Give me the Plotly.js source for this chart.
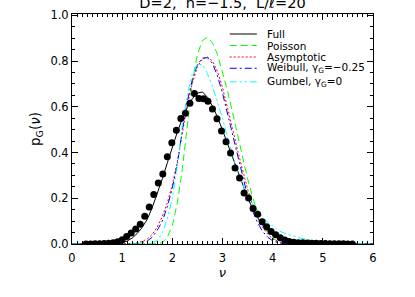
<!DOCTYPE html>
<html>
<head>
<meta charset="utf-8">
<script src="https://cdn.plot.ly/plotly-3.0.1.min.js"></script>
<style>html,body{margin:0;padding:0;background:#fff;}#chart{width:415px;height:297px;}</style>
</head>
<body>
<div id="chart"></div>
<script>
// ---- data ----
var nuGrid = [
  0.0,0.1,0.2,0.3,0.4,0.5,0.6,0.7,0.8,0.9,
  1.0,1.1,1.2,1.3,1.4,1.5,1.6,1.7,1.8,1.9,
  2.0,2.1,2.2,2.3,2.4,2.5,2.6,2.7,2.8,2.9,
  3.0,3.1,3.2,3.3,3.4,3.5,3.6,3.7,3.8,3.9,
  4.0,4.1,4.2,4.3,4.4,4.5,4.6,4.7,4.8,4.9,
  5.0,5.1,5.2,5.3,5.4,5.5,5.6,5.7,5.8,5.9,6.0];
var fullCurve = [
  0,0,0,0,0,0,0,0,0.001,0.002,
  0.006,0.013,0.026,0.046,0.073,0.108,0.160,0.220,0.285,0.355,
  0.425,0.490,0.548,0.598,0.636,0.660,0.665,0.642,0.603,0.555,
  0.498,0.440,0.380,0.318,0.258,0.203,0.155,0.115,0.082,0.057,
  0.038,0.025,0.015,0.009,0.005,0.003,0.001,0,0,0,
  0,0,0,0,0,0,0,0,0,0,0];
var poissonCurve = [
  0,0,0,0,0,0,0,0,0,0,
  0,0,0,0,0,0,0,0.001,0.006,0.030,
  0.080,0.180,0.330,0.530,0.710,0.830,0.890,0.905,0.880,0.830,
  0.755,0.670,0.575,0.475,0.375,0.285,0.205,0.140,0.090,0.052,
  0.026,0.011,0.004,0.001,0,0,0,0,0,0,
  0,0,0,0,0,0,0,0,0,0,0];
var asymptoticCurve = [
  0,0,0,0,0,0,0,0,0,0,
  0,0,0.002,0.005,0.011,0.022,0.042,0.075,0.120,0.180,
  0.260,0.360,0.490,0.610,0.705,0.775,0.810,0.818,0.800,0.755,
  0.685,0.600,0.505,0.410,0.320,0.240,0.170,0.115,0.073,0.043,
  0.023,0.011,0.005,0.002,0,0,0,0,0,0,
  0,0,0,0,0,0,0,0,0,0,0];
var weibullCurve = [
  0,0,0,0,0,0,0,0,0,0,
  0,0,0,0.002,0.007,0.013,0.030,0.060,0.100,0.163,
  0.245,0.350,0.500,0.625,0.720,0.785,0.813,0.815,0.790,0.735,
  0.660,0.570,0.475,0.380,0.290,0.210,0.145,0.093,0.055,0.030,
  0.014,0.006,0.002,0,0,0,0,0,0,0,
  0,0,0,0,0,0,0,0,0,0,0];
var gumbelCurve = [
  0,0,0,0,0,0,0,0,0,0,
  0,0,0,0,0,0.001,0.005,0.015,0.048,0.110,
  0.200,0.345,0.520,0.655,0.745,0.785,0.785,0.745,0.690,0.625,
  0.550,0.465,0.385,0.315,0.260,0.215,0.178,0.146,0.118,0.095,
  0.077,0.062,0.050,0.042,0.035,0.029,0.024,0.019,0.015,0.012,
  0.010,0.008,0.006,0.004,0.003,0.002,0.001,0.001,0,0,0];
var nuPoints = [
  0.28,0.37,0.46,0.55,0.64,0.73,0.82,0.91,1.00,1.09,
  1.18,1.27,1.36,1.45,1.54,1.63,1.72,1.81,1.90,1.99,
  2.08,2.17,2.26,2.35,2.44,2.53,2.62,2.71,2.80,2.89,
  2.98,3.07,3.16,3.25,3.34,3.43,3.52,3.61,3.70,3.79,
  3.88,3.97,4.06,4.15,4.24,4.33,4.42,4.51,4.60,4.69,
  4.78,4.87,4.96,5.05,5.14,5.23,5.32,5.41,5.50,5.59];
var pPoints = [
  0.000,0.000,0.001,0.001,0.002,0.003,0.005,0.010,0.019,0.033,
  0.048,0.066,0.086,0.121,0.162,0.216,0.267,0.306,0.382,0.443,
  0.498,0.549,0.572,0.616,0.658,0.636,0.635,0.624,0.590,0.548,
  0.494,0.447,0.398,0.332,0.289,0.223,0.201,0.155,0.130,0.097,
  0.075,0.055,0.041,0.027,0.018,0.011,0.008,0.006,0.005,0.004,
  0.003,0.003,0.002,0.002,0.001,0.001,0.001,0.001,0.000,0.000];
var seriesNames = ['Full', 'Poisson', 'Asymptotic',
  'Weibull, \u03b3<sub>G</sub>=\u22120.25', 'Gumbel, \u03b3<sub>G</sub>=0'];
var xTickVals = [0,1,2,3,4,5,6];
var yTickVals = [0,0.2,0.4,0.6,0.8,1.0];

// ---- styles ----
var styles = [
  {color:'#000000', dash:'solid'},
  {color:'#00ff00', dash:'7px,4px'},
  {color:'#ff0000', dash:'2px,2px'},
  {color:'#0000ff', dash:'7px,3px,2px,3px'},
  {color:'#00ffff', dash:'7px,3px,2px,3px,2px,3px'}
];
var curves = [fullCurve, poissonCurve, asymptoticCurve, weibullCurve, gumbelCurve];

var traces = curves.map(function(c, i){
  return {x: nuGrid, y: c, type:'scatter', mode:'lines', name: seriesNames[i],
    line:{color: styles[i].color, dash: styles[i].dash, width:1}, showlegend:false, hoverinfo:'skip'};
});
traces.push({x: nuPoints, y: pPoints, type:'scatter', mode:'markers',
  marker:{color:'#000', size:7, line:{width:0}}, showlegend:false, hoverinfo:'skip'});

var fontFam = 'DejaVu Sans, sans-serif';

// manual compact legend
var legRowY = [0.913, 0.863, 0.813, 0.764, 0.705];
var shapes = [], annotations = [];
seriesNames.forEach(function(n, i){
  shapes.push({type:'line', xref:'paper', yref:'paper', x0:0.524, x1:0.614, y0:legRowY[i], y1:legRowY[i],
    line:{color: styles[i].color, dash: styles[i].dash, width:1}});
  annotations.push({xref:'paper', yref:'paper', x:0.6425, y:legRowY[i], xanchor:'left', yanchor:'middle',
    text:n, showarrow:false, font:{family:fontFam, size:10.5, color:'#000'}});
});

var layout = {
  width:415, height:297,
  margin:{l:72, r:42, t:14, b:53},
  paper_bgcolor:'#fff', plot_bgcolor:'#fff',
  font:{family:fontFam, size:11.5, color:'#000'},
  title:{text:'D=2,  n=\u22121.5,  L/\u2113=20', font:{family:fontFam, size:14.5, color:'#000'},
    x:0.5, xanchor:'center', xref:'paper', y:0.989, yanchor:'middle', yref:'container'},
  xaxis:{range:[0,6], tickvals:xTickVals, ticktext:xTickVals.map(String),
    ticks:'inside', ticklen:6, tickwidth:1, tickcolor:'#000', ticklabelstandoff:3,
    minor:{ticks:'inside', ticklen:3, dtick:0.1, tickcolor:'#000', tickwidth:1, showgrid:false},
    showline:true, linecolor:'#000', linewidth:1, mirror:'allticks',
    showgrid:false, zeroline:false, tickfont:{size:11.5},
    title:{text:'<i>\u03bd</i>', font:{size:13}, standoff:4}},
  yaxis:{range:[0,1.006], tickvals:yTickVals, ticktext:yTickVals.map(function(v){return v.toFixed(1);}),
    ticks:'inside', ticklen:6, tickwidth:1, tickcolor:'#000',
    minor:{ticks:'inside', ticklen:3, dtick:0.05, tickcolor:'#000', tickwidth:1, showgrid:false},
    showline:true, linecolor:'#000', linewidth:1, mirror:'allticks',
    showgrid:false, zeroline:false, tickfont:{size:11.5},
    title:{text:'p<sub>G</sub>(<i>\u03bd</i>)', font:{size:13.5}, standoff:6}},
  shapes:shapes,
  annotations:annotations
};
Plotly.newPlot('chart', traces, layout, {displayModeBar:false, staticPlot:true});
</script>
</body>
</html>
